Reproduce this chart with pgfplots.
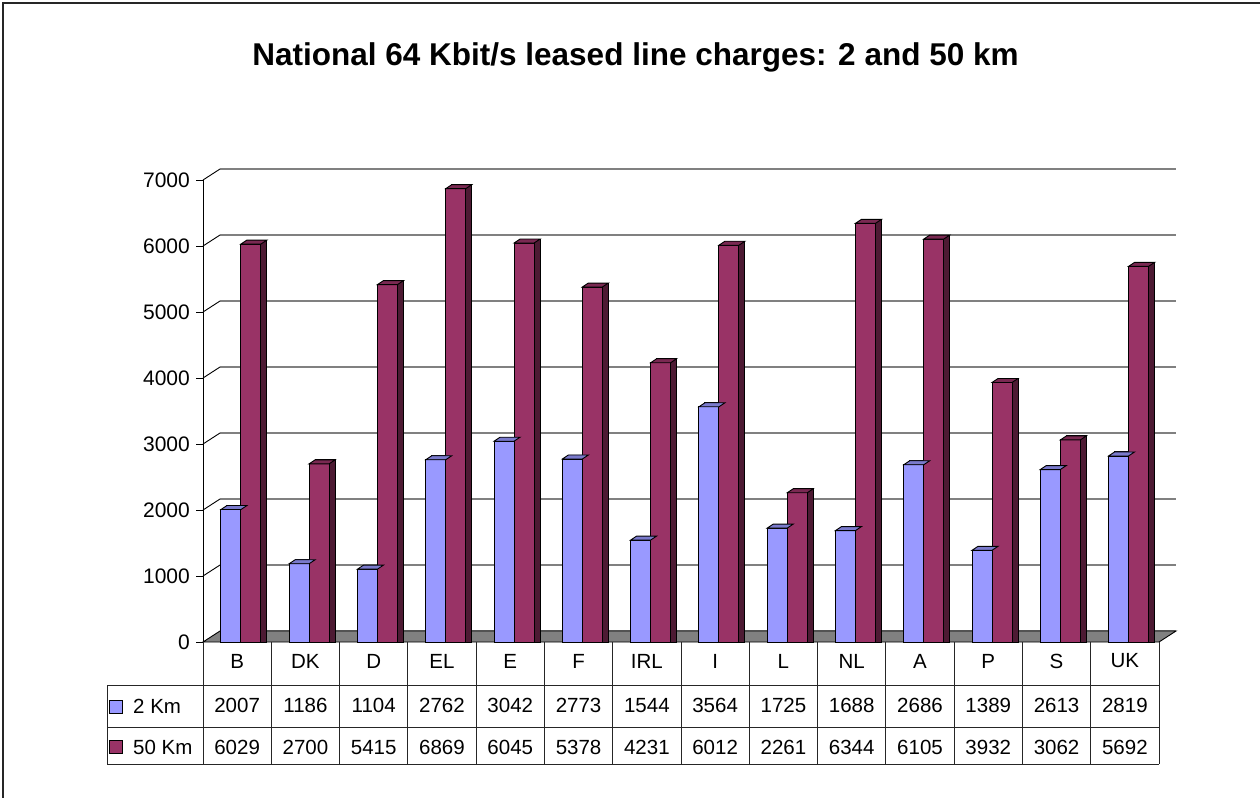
\documentclass[border=0pt]{standalone}
\usepackage{pgfplots}
\usepackage{pgfplotstable}
\pgfplotsset{compat=1.18}
\usepackage{fontspec}
\setmainfont{Liberation Sans}
\definecolor{bluefront}{HTML}{9999FF}
\definecolor{bluetop}{HTML}{7A7ACC}
\definecolor{blueside}{HTML}{4C4C80}
\definecolor{redfront}{HTML}{993366}
\definecolor{redtop}{HTML}{7A2952}
\definecolor{redside}{HTML}{4D1A33}
\definecolor{floorgray}{HTML}{808080}
\pgfdeclareplotmark{topface}{%
  \pgfpathmoveto{\pgfpoint{-10bp}{0bp}}%
  \pgfpathlineto{\pgfpoint{10bp}{0bp}}%
  \pgfpathlineto{\pgfpoint{16bp}{4bp}}%
  \pgfpathlineto{\pgfpoint{-4bp}{4bp}}%
  \pgfpathclose
  \pgfusepathqfillstroke}
\pgfplotstableread{
x cat km2 km50
0.5 B 2007 6029
1.5 DK 1186 2700
2.5 D 1104 5415
3.5 EL 2762 6869
4.5 E 3042 6045
5.5 F 2773 5378
6.5 IRL 1544 4231
7.5 I 3564 6012
8.5 L 1725 2261
9.5 NL 1688 6344
10.5 A 2686 6105
11.5 P 1389 3932
12.5 S 2613 3062
13.5 UK 2819 5692
}\data
\newcommand{\tabfont}{\fontsize{20.5bp}{24bp}\selectfont}
\begin{document}
\begin{tikzpicture}
\useasboundingbox (0,0) rectangle (1260bp,-798bp);
\draw[line width=1.5bp, black!85] (3bp,-798bp) -- (3bp,-3bp) -- (1260bp,-3bp);
\node[anchor=base, font=\bfseries\fontsize{31.5bp}{36bp}\selectfont] at (635.5bp,-65bp) {National 64 Kbit/s leased line charges: 2 and 50 km};
\begin{axis}[
  at={(203bp,-642bp)}, anchor=south west,
  scale only axis, width=956bp, height=462bp,
  xmin=0, xmax=14, ymin=0, ymax=7000,
  clip=false,
  axis lines*=left,
  x axis line style={draw=none},
  y axis line style={black, line width=0.9bp},
  xtick={0.5,1.5,...,13.5},
  xticklabels={B,DK,D,EL,E,F,IRL,I,L,NL,A,P,S,UK},
  xtick style={draw=none},
  xticklabel style={font=\tabfont, anchor=center, yshift=-12bp},
  ytick={0,1000,...,7000},
  tick align=outside,
  major tick length=7bp,
  ytick style={black, line width=0.9bp},
  yticklabel style={font=\fontsize{21bp}{25bp}\selectfont, anchor=east, inner sep=0pt, xshift=-6bp},
  /pgf/number format/assume math mode=true,
  /pgf/number format/1000 sep={},
  ymajorgrids,
  major grid style={draw=gray, line width=1.3bp, xshift=17bp, yshift=11bp},
]
% floor
\filldraw[fill=floorgray, draw=black, line width=0.9bp] (axis cs:0,0) -- (axis cs:14,0) -- ++(17bp,11bp) -- ([xshift=17bp,yshift=11bp]axis cs:0,0) -- cycle;
\pgfplotsinvokeforeach{1000,2000,3000,4000,5000,6000,7000}{
  \draw[black, line width=0.9bp] (axis cs:0,#1) -- ++(17bp,11bp);
}
% 2 Km bars
\addplot[ybar, bar width=20bp, bar shift=-0.25bp, fill=blueside, draw=black, line width=0.9bp] table[x=x, y expr=\thisrow{km2}+61] {\data};
\addplot[only marks, mark=topface, mark options={fill=bluetop, draw=black, line width=0.9bp}, xshift=-6.25bp] table[x=x, y=km2] {\data};
\addplot[ybar, bar width=20bp, bar shift=-6.25bp, fill=bluefront, draw=black, line width=0.9bp] table[x=x, y=km2] {\data};
% 50 Km bars
\addplot[ybar, bar width=20bp, bar shift=19.75bp, fill=redside, draw=black, line width=0.9bp] table[x=x, y expr=\thisrow{km50}+61] {\data};
\addplot[only marks, mark=topface, mark options={fill=redtop, draw=black, line width=0.9bp}, xshift=13.75bp] table[x=x, y=km50] {\data};
\addplot[ybar, bar width=20bp, bar shift=13.75bp, fill=redfront, draw=black, line width=0.9bp] table[x=x, y=km50] {\data};
% table values
\addplot[draw=none, mark=none, nodes near coords, point meta=explicit symbolic,
  nodes near coords align={anchor=center},
  every node near coord/.append style={font=\tabfont, inner sep=0pt, yshift=-63.5bp}]
  table[x=x, y expr=0, meta=km2] {\data};
\addplot[draw=none, mark=none, nodes near coords, point meta=explicit symbolic,
  nodes near coords align={anchor=center},
  every node near coord/.append style={font=\tabfont, inner sep=0pt, yshift=-105.5bp}]
  table[x=x, y expr=0, meta=km50] {\data};
\end{axis}
% table grid
\foreach \y in {685,727,764} {\draw[black!85, line width=1bp] (107bp,-\y bp) -- (1159bp,-\y bp);}
\draw[black!85, line width=1bp] (107bp,-685bp) -- (107bp,-764bp);
\foreach \k in {0,...,14} {\draw[black!85, line width=1bp] ({203bp+\k*68.2857bp},-642bp) -- ({203bp+\k*68.2857bp},-764bp);}
% legend keys
\filldraw[fill=bluefront, draw=black, line width=1bp] (109bp,-700bp) rectangle (122bp,-713bp);
\node[anchor=west, font=\tabfont, inner sep=0pt] at (133bp,-706.5bp) {2 Km};
\filldraw[fill=redfront, draw=black, line width=1bp] (109bp,-740bp) rectangle (122bp,-753bp);
\node[anchor=west, font=\tabfont, inner sep=0pt] at (133bp,-747bp) {50 Km};
\end{tikzpicture}
\end{document}
